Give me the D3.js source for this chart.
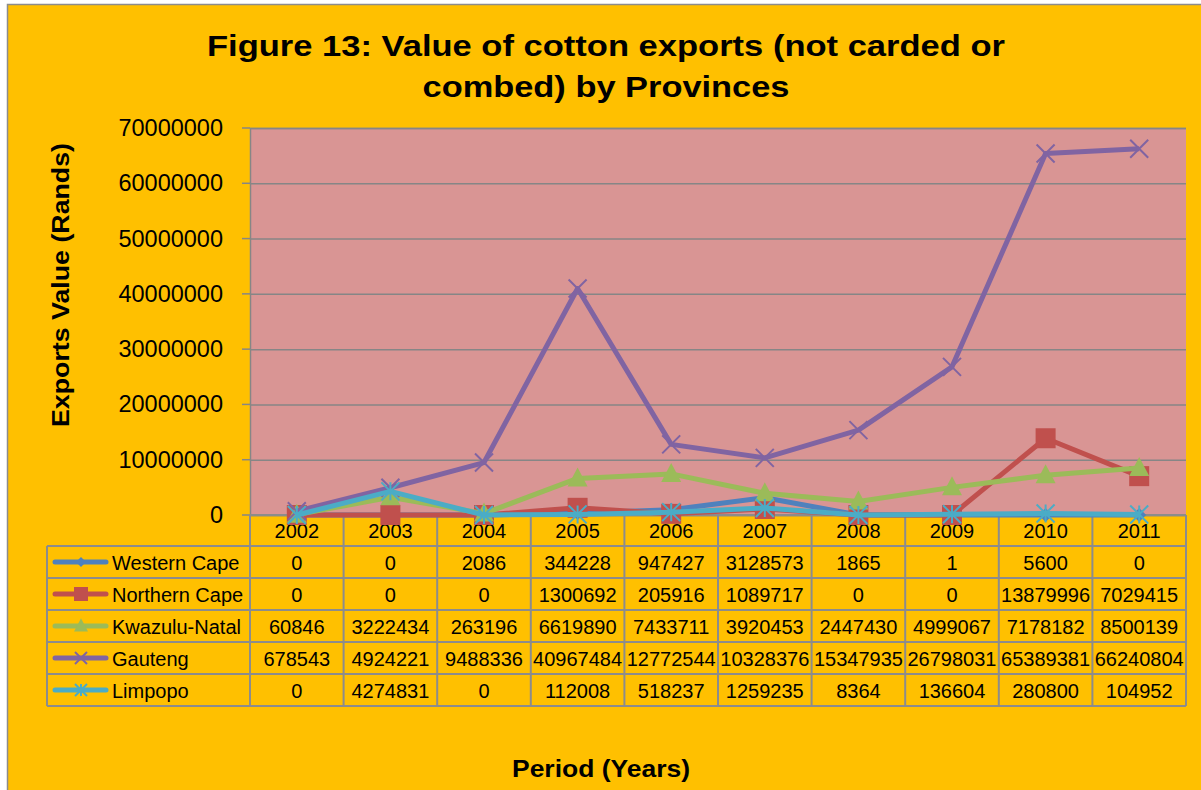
<!DOCTYPE html>
<html>
<head>
<meta charset="utf-8">
<script src="https://cdn.jsdelivr.net/npm/d3@7"></script>
<style>
  body { margin: 0; background: #fff; }
  svg { display: block; font-family: "Liberation Sans", Arial, sans-serif; }
</style>
</head>
<body>
<svg id="chart" width="1201" height="790"></svg>
<script>
const years = ["2002", "2003", "2004", "2005", "2006", "2007", "2008", "2009", "2010", "2011"];
const provinces = ["Western Cape", "Northern Cape", "Kwazulu-Natal", "Gauteng", "Limpopo"];
const westernCape = [0, 0, 2086, 344228, 947427, 3128573, 1865, 1, 5600, 0];
const northernCape = [0, 0, 0, 1300692, 205916, 1089717, 0, 0, 13879996, 7029415];
const kwazuluNatal = [60846, 3222434, 263196, 6619890, 7433711, 3920453, 2447430, 4999067, 7178182, 8500139];
const gauteng = [678543, 4924221, 9488336, 40967484, 12772544, 10328376, 15347935, 26798031, 65389381, 66240804];
const limpopo = [0, 4274831, 0, 112008, 518237, 1259235, 8364, 136604, 280800, 104952];
const yTicks = [0, 10000000, 20000000, 30000000, 40000000, 50000000, 60000000, 70000000];

const seriesValues = [westernCape, northernCape, kwazuluNatal, gauteng, limpopo];
const colors = ["#4F81BD", "#C0504D", "#9BBB59", "#8064A2", "#4BACC6"];
const markers = ["diamond", "square", "triangle", "x", "star"];

const series = provinces.map((name, i) => ({
    name: name,
    values: seriesValues[i],
    color: colors[i],
    marker: markers[i]
}));

const svg = d3.select("#chart");

// page frame
svg.append("rect")
    .attr("x", 7.5).attr("y", 4.5)
    .attr("width", 1200).attr("height", 790)
    .attr("fill", "#FFC000")
    .attr("stroke", "#8c8c8c")
    .attr("stroke-width", 1.5);

let plotLeft = 250, plotRight = 1186, plotTop = 128, plotBottom = 515;

let xScale = d3.scaleBand()
    .domain(years)
    .range([plotLeft, plotRight]);
let x = i => xScale(years[i]) + xScale.bandwidth() / 2;

let yScale = d3.scaleLinear()
    .domain([0, 70000000])
    .range([plotBottom, plotTop]);

// plot area
svg.append("rect")
    .attr("x", plotLeft).attr("y", plotTop)
    .attr("width", plotRight - plotLeft).attr("height", plotBottom - plotTop)
    .attr("fill", "#D99594");

// y axis with gridlines
const yAxis = d3.axisLeft(yScale)
    .tickValues(yTicks)
    .tickSize(-(plotRight - plotLeft))
    .tickFormat(d3.format("d"))
    .tickPadding(27);

svg.append("g")
    .attr("transform", `translate(${plotLeft},0)`)
    .call(yAxis)
    .call(g => g.select(".domain").attr("stroke", "#868686").attr("stroke-width", 1.5))
    .call(g => g.selectAll(".tick line").attr("stroke", "#868686").attr("stroke-width", 1.5))
    .call(g => g.selectAll(".tick text")
        .attr("font-size", 23.5)
        .attr("fill", "#000")
        .attr("font-family", "Liberation Sans, Arial, sans-serif"));

// small outside ticks
svg.append("g")
    .selectAll("line")
    .data(yTicks)
    .join("line")
    .attr("x1", plotLeft - 8).attr("x2", plotLeft)
    .attr("y1", d => yScale(d)).attr("y2", d => yScale(d))
    .attr("stroke", "#868686").attr("stroke-width", 1.5);

// data table
let rowH = 32;
let headerBottom = 546;
let tableLeft = 47;
const tableG = svg.append("g");
const gridColor = "#8c8c8c";

// horizontal lines
tableG.append("line")
    .attr("x1", plotLeft).attr("x2", plotRight)
    .attr("y1", plotBottom).attr("y2", plotBottom)
    .attr("stroke", gridColor).attr("stroke-width", 2);
d3.range(provinces.length + 1).forEach(r => {
    tableG.append("line")
        .attr("x1", tableLeft).attr("x2", plotRight)
        .attr("y1", headerBottom + r * rowH).attr("y2", headerBottom + r * rowH)
        .attr("stroke", gridColor).attr("stroke-width", 2);
});
// vertical lines
tableG.append("line")
    .attr("x1", tableLeft).attr("x2", tableLeft)
    .attr("y1", headerBottom).attr("y2", headerBottom + provinces.length * rowH)
    .attr("stroke", gridColor).attr("stroke-width", 2);
years.forEach(yr => {
    tableG.append("line")
        .attr("x1", xScale(yr)).attr("x2", xScale(yr))
        .attr("y1", plotBottom).attr("y2", headerBottom + provinces.length * rowH)
        .attr("stroke", gridColor).attr("stroke-width", 2);
});
tableG.append("line")
    .attr("x1", plotRight).attr("x2", plotRight)
    .attr("y1", plotBottom).attr("y2", headerBottom + provinces.length * rowH)
    .attr("stroke", gridColor).attr("stroke-width", 2);

// year labels
tableG.selectAll(".year")
    .data(years)
    .join("text")
    .attr("class", "year")
    .attr("x", d => xScale(d) + xScale.bandwidth() / 2)
    .attr("y", plotBottom + 23)
    .attr("text-anchor", "middle")
    .attr("font-size", 20)
    .text(d => d);

// markers
function drawMarker(g, type, color, cx, cy, s) {
    if (type === "diamond") {
        g.append("path")
            .attr("d", `M${cx},${cy - s}L${cx + s},${cy}L${cx},${cy + s}L${cx - s},${cy}Z`)
            .attr("fill", color);
    } else if (type === "square") {
        g.append("rect")
            .attr("x", cx - s).attr("y", cy - s)
            .attr("width", 2 * s).attr("height", 2 * s)
            .attr("fill", color);
    } else if (type === "triangle") {
        g.append("path")
            .attr("d", `M${cx},${cy - s * 1.1}L${cx + s},${cy + s * 0.8}L${cx - s},${cy + s * 0.8}Z`)
            .attr("fill", color);
    } else if (type === "x") {
        g.append("path")
            .attr("d", `M${cx - s},${cy - s}L${cx + s},${cy + s}M${cx + s},${cy - s}L${cx - s},${cy + s}`)
            .attr("stroke", color).attr("stroke-width", 2).attr("fill", "none");
    } else if (type === "star") {
        g.append("path")
            .attr("d", `M${cx - s},${cy - s}L${cx + s},${cy + s}M${cx + s},${cy - s}L${cx - s},${cy + s}M${cx},${cy - s}L${cx},${cy + s}`)
            .attr("stroke", color).attr("stroke-width", 2).attr("fill", "none");
    }
}

const legendSize = { diamond: 5, square: 7, triangle: 7, x: 6, star: 6 };
const pointSize = { diamond: 7, square: 10, triangle: 10, x: 9, star: 9 };

// rows: legend key + values
series.forEach((s, r) => {
    let cy = headerBottom + r * rowH + rowH / 2;
    const row = tableG.append("g");
    row.append("line")
        .attr("x1", 55).attr("x2", 106)
        .attr("y1", cy).attr("y2", cy)
        .attr("stroke", s.color).attr("stroke-width", 5)
        .attr("stroke-linecap", "round");
    drawMarker(row, s.marker, s.color, 81, cy, legendSize[s.marker]);
    row.append("text")
        .attr("x", 112).attr("y", cy + 7.5)
        .attr("font-size", 20)
        .text(s.name);
    row.selectAll(".val")
        .data(s.values)
        .join("text")
        .attr("class", "val")
        .attr("x", (d, i) => x(i))
        .attr("y", cy + 7.5)
        .attr("text-anchor", "middle")
        .attr("font-size", 20)
        .text(d => d);
});

// lines
const line = d3.line()
    .x((d, i) => x(i))
    .y(d => yScale(d));

series.forEach(s => {
    const g = svg.append("g");
    g.append("path")
        .datum(s.values)
        .attr("d", line)
        .attr("fill", "none")
        .attr("stroke", s.color)
        .attr("stroke-width", 5)
        .attr("stroke-linejoin", "round");
    s.values.forEach((v, i) => drawMarker(g, s.marker, s.color, x(i), yScale(v), pointSize[s.marker]));
});

// titles (reference text is drawn a little wider than Arial Bold, so fit the width)
svg.append("text")
    .attr("x", 606).attr("y", 56)
    .attr("text-anchor", "middle")
    .attr("font-size", 30).attr("font-weight", "bold")
    .attr("textLength", 798).attr("lengthAdjust", "spacingAndGlyphs")
    .text("Figure 13: Value of cotton exports (not carded or");
svg.append("text")
    .attr("x", 606).attr("y", 97)
    .attr("text-anchor", "middle")
    .attr("font-size", 30).attr("font-weight", "bold")
    .attr("textLength", 367).attr("lengthAdjust", "spacingAndGlyphs")
    .text("combed) by Provinces");

svg.append("text")
    .attr("transform", "translate(69,285) rotate(-90)")
    .attr("text-anchor", "middle")
    .attr("font-size", 23).attr("font-weight", "bold")
    .attr("textLength", 284).attr("lengthAdjust", "spacingAndGlyphs")
    .text("Exports Value (Rands)");

svg.append("text")
    .attr("x", 601).attr("y", 777)
    .attr("text-anchor", "middle")
    .attr("font-size", 23).attr("font-weight", "bold")
    .attr("textLength", 178).attr("lengthAdjust", "spacingAndGlyphs")
    .text("Period (Years)");
</script>
</body>
</html>
